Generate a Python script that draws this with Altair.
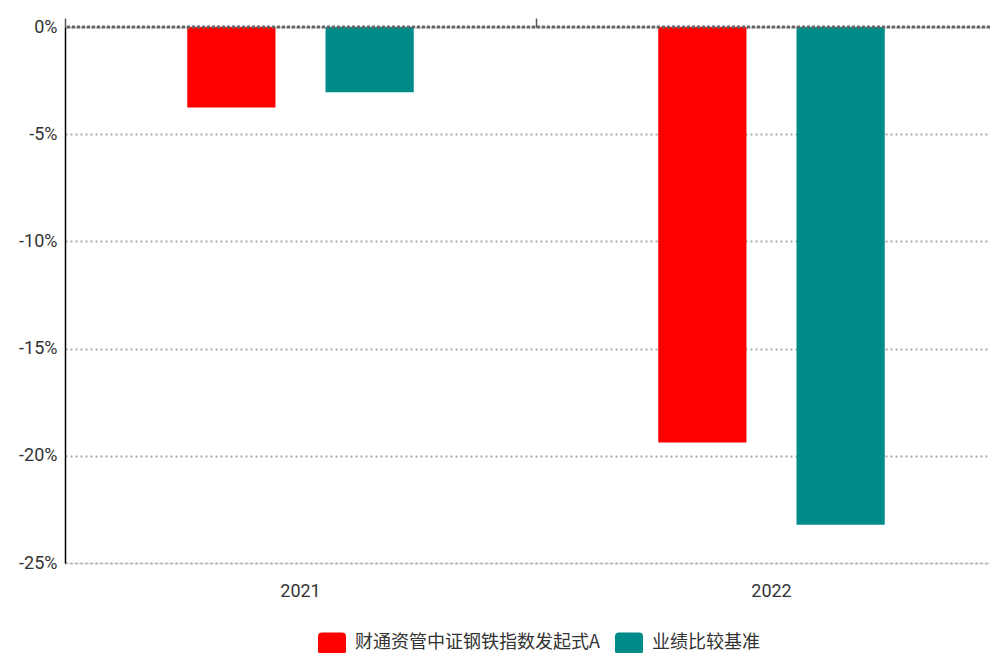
import altair as alt
import pandas as pd

years = ["2021", "2022"]
series = ["财通资管中证钢铁指数发起式A", "业绩比较基准"]
fund_values = [-3.76, -19.38]
bench_values = [-3.04, -23.22]
colors = ["#FF0000", "#008B8B"]
y_ticks = [0, -5, -10, -15, -20, -25]

rows = []
for i, yr in enumerate(years):
    rows.append({"year": yr, "series": series[0], "value": fund_values[i], "order": 0})
    rows.append({"year": yr, "series": series[1], "value": bench_values[i], "order": 1})
df = pd.DataFrame(rows)

FONT = "Roboto, Liberation Sans, sans-serif"
CJK = "Noto Sans CJK SC"

legend_path = ("M-0.714,-0.786 L0.714,-0.786 Q1,-0.786 1,-0.5 L1,0.5 "
               "Q1,0.786 0.714,0.786 L-0.714,0.786 Q-1,0.786 -1,0.5 "
               "L-1,-0.5 Q-1,-0.786 -0.714,-0.786 Z")

xscale = alt.Scale(domain=years, range=[0, 942], paddingInner=0, paddingOuter=0)

bars = alt.Chart(df).mark_bar().encode(
    x=alt.X("year:N", scale=xscale, sort=years,
            axis=alt.Axis(title=None, labelAngle=0, domain=False, ticks=False,
                          labelFont=FONT, labelFontSize=18, labelColor="#333333",
                          labelPadding=19, grid=False)),
    xOffset=alt.XOffset("series:N", sort=series,
                        scale=alt.Scale(paddingInner=0.362, paddingOuter=0.884)),
    y=alt.Y("value:Q", scale=alt.Scale(domain=[-25, 0], nice=False),
            axis=alt.Axis(title=None, values=y_ticks, format=".0f",
                          labelExpr="datum.value + '%'",
                          labelFont=FONT, labelFontSize=18, labelColor="#333333",
                          labelPadding=8, ticks=False, domain=True,
                          domainColor="#000000", domainWidth=1.5,
                          grid=True, gridColor="#aaaaaa", gridDash=[2, 3],
                          gridWidth=2)),
    color=alt.Color("series:N", sort=series,
                    scale=alt.Scale(domain=series, range=colors),
                    legend=alt.Legend(title=None, orient="none", legendX=253, legendY=602,
                                      direction="horizontal", symbolType=legend_path,
                                      symbolSize=784, symbolStrokeWidth=0,
                                      labelFont=CJK, labelFontSize=18, labelLimit=0,
                                      labelColor="#333333", labelOffset=9,
                                      columnPadding=15, symbolOpacity=1)),
)

zero = alt.Chart(pd.DataFrame({"v": [0]})).mark_rule(
    color="#666666", strokeWidth=3, strokeDash=[3, 2]
).encode(y=alt.Y("v:Q", scale=alt.Scale(domain=[-25, 0], nice=False)))

top_ticks = alt.Chart(df).mark_bar(opacity=0).encode(
    x=alt.X("year:N", scale=xscale, sort=years,
            axis=alt.Axis(title=None, orient="top", labels=False, domain=False,
                          ticks=True, tickSize=9, tickColor="#555555", tickWidth=1.5,
                          bandPosition=0, grid=False)),
    y=alt.Y("value:Q", scale=alt.Scale(domain=[-25, 0], nice=False)),
)

chart = alt.layer(bars, zero, top_ticks).resolve_axis(x="independent").properties(
    width=925, height=536,
    autosize=alt.AutoSizeParams(type="none"),
    padding={"left": 57, "top": 19, "right": 0, "bottom": 90},
).configure_view(stroke=None).configure(background="white")

chart.save("out.html", embed_options={"renderer": "svg", "actions": False})
